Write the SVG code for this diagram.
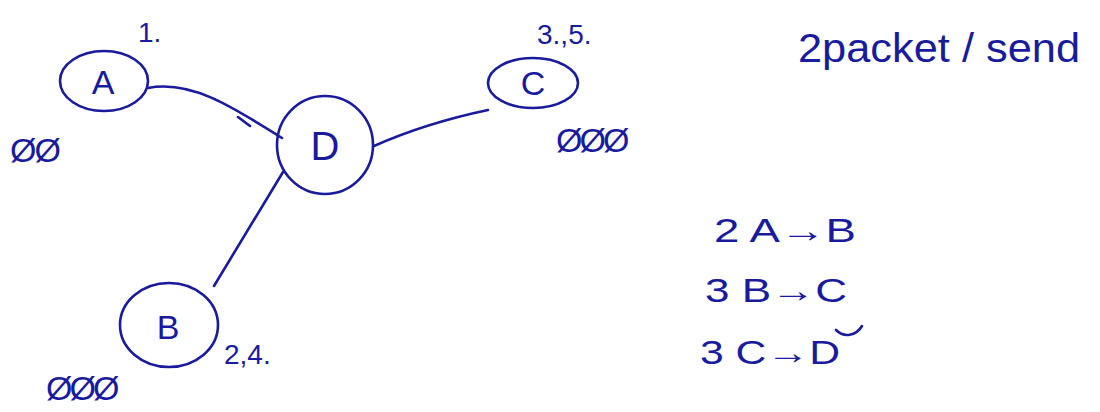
<svg xmlns="http://www.w3.org/2000/svg" width="1100" height="412" viewBox="0 0 1100 412">
<style>
.ink{fill:none;stroke:#1a1a9c;stroke-width:2.6;stroke-linecap:round}
.t{font-family:"Liberation Sans",Arial,sans-serif;fill:#1a1a9c}
.big{font-size:40px}
.mid{font-size:34px}
.sm{font-size:28px}
</style>
<rect width="1100" height="412" fill="#ffffff"/>
<g id="connectors">
<path class="ink" d="M148,88 C190,80 230,105 282,138"/>
<path class="ink" d="M238,117 L250,126"/>
<path class="ink" d="M374,146 C410,130 450,118 488,110"/>
<path class="ink" d="M283,172 L214,286"/>
</g>
<g id="node-A">
<ellipse class="ink" cx="104" cy="81" rx="44" ry="30"/>
<text class="t mid" x="103" y="94" text-anchor="middle">A</text>
<text class="t sm" x="138" y="42">1.</text>
<text class="t mid" x="10" y="162" letter-spacing="-2">ØØ</text>
</g>
<g id="node-D">
<ellipse class="ink" cx="325" cy="145" rx="48" ry="49"/>
<text class="t big" x="325" y="160" text-anchor="middle">D</text>
</g>
<g id="node-C">
<ellipse class="ink" cx="533" cy="83" rx="45" ry="25"/>
<text class="t mid" x="533" y="95" text-anchor="middle">C</text>
<text class="t sm" x="537" y="44" font-size="30">3.,5.</text>
<text class="t mid" x="556" y="152" letter-spacing="-3">ØØØ</text>
</g>
<g id="node-B">
<ellipse class="ink" cx="169" cy="325" rx="49" ry="42"/>
<text class="t mid" x="168" y="339" text-anchor="middle">B</text>
<text class="t sm" x="224" y="364">2,4.</text>
<text class="t mid" x="46" y="400" letter-spacing="-3">ØØØ</text>
</g>
<g id="notes">
<text class="t big" x="798" y="62" font-size="44" textLength="282" lengthAdjust="spacingAndGlyphs">2packet / send</text>
<text class="t mid" x="714" y="242" textLength="142" lengthAdjust="spacingAndGlyphs">2 A→B</text>
<text class="t mid" x="705" y="302" textLength="142" lengthAdjust="spacingAndGlyphs">3 B→C</text>
<text class="t mid" x="700" y="364" textLength="140" lengthAdjust="spacingAndGlyphs">3 C→D</text>
<path class="ink" d="M836,330 C844,338 856,336 862,326"/>
</g>
</svg>
